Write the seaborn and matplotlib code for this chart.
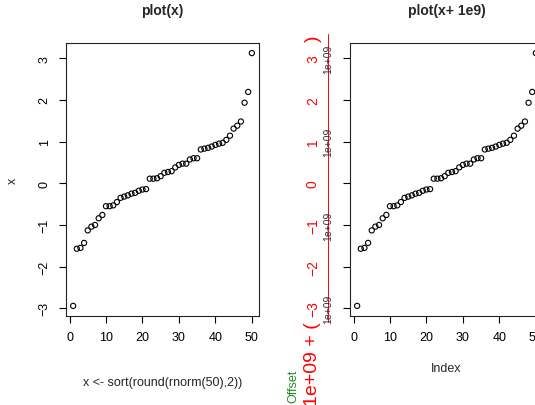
import numpy as np
import pandas as pd
import seaborn as sns
import matplotlib.pyplot as plt

# sorted, rounded values
x_vals = [-2.94, -1.57, -1.55, -1.43, -1.13, -1.04, -1.00, -0.84, -0.76, -0.55,
          -0.55, -0.53, -0.45, -0.35, -0.32, -0.29, -0.25, -0.23, -0.18, -0.15,
          -0.14, 0.11, 0.11, 0.12, 0.17, 0.25, 0.27, 0.29, 0.38, 0.44,
          0.47, 0.47, 0.57, 0.60, 0.60, 0.81, 0.83, 0.85, 0.88, 0.92,
          0.95, 0.97, 1.04, 1.14, 1.31, 1.38, 1.48, 1.93, 2.19, 3.12]
index = list(range(1, len(x_vals) + 1))
y_ticks = [-3, -2, -1, 0, 1, 2, 3]
x_ticks = [0, 10, 20, 30, 40, 50]
offset_label = "1e+09"
offset_ticks = [-3, -1, 1, 3]

df = pd.DataFrame({"Index": index, "x": x_vals})

sns.set_theme(style="ticks")
plt.rcParams["font.family"] = ["Liberation Sans", "DejaVu Sans"]
plt.rcParams["axes.edgecolor"] = "black"
plt.rcParams["axes.linewidth"] = 0.8

fig = plt.figure(figsize=(5.35, 4.06), dpi=100)
W, H = 535, 406
ax1 = fig.add_axes([66 / W, 1 - 317 / H, 193 / W, 273 / H])
ax2 = fig.add_axes([350 / W, 1 - 317 / H, 193 / W, 273 / H])

lo, hi = min(x_vals), max(x_vals)
pad_y = 0.04 * (hi - lo)
pad_x = 0.04 * (len(x_vals) - 1)

for ax in (ax1, ax2):
    sns.scatterplot(data=df, x="Index", y="x", ax=ax, marker="o", s=14,
                    facecolor="none", edgecolor="black", linewidth=0.8)
    ax.set_xlim(1 - pad_x, len(x_vals) + pad_x)
    ax.set_ylim(lo - pad_y, hi + pad_y)
    ax.set_xticks(x_ticks)
    ax.set_yticks(y_ticks)
    ax.tick_params(axis="both", direction="out", length=5, width=0.8,
                   labelsize=9, colors="black", pad=6)
    ax.tick_params(axis="y", labelrotation=90)
    for sp in ax.spines.values():
        sp.set_visible(True)
        sp.set_color("#222222")
    ax.set_xlabel("")
    ax.set_ylabel("")

for lab in ax1.get_yticklabels():
    lab.set_va("center")
ax1.set_yticklabels([str(t).replace("-", "\u2212") for t in y_ticks])
ax2.tick_params(axis="y", labelleft=False)

ax1.set_title("plot(x)", fontsize=10, fontweight="bold", pad=21)
ax2.set_title("plot(x+ 1e9)", fontsize=10, fontweight="bold", pad=21)
ax1.set_ylabel("x", fontsize=9, labelpad=14)
fig.text(163 / W, 1 - 383 / H, "x <- sort(round(rnorm(50),2))", fontsize=9,
         ha="center", va="center")
fig.text(446 / W, 1 - 369 / H, "Index", fontsize=9, ha="center", va="center")

# red offset axis drawn left of the second panel
tr = ax2.get_yaxis_transform()
ax2.plot([-0.114, -0.114], [-3.32, 3.57], color="red", lw=0.7,
         transform=tr, clip_on=False)
for t in y_ticks:
    ax2.text(-0.192, t, str(t).replace("-", "\u2212"), color="red", fontsize=10,
             rotation=90, ha="center", va="center", transform=tr)
for t in offset_ticks:
    ax2.text(-0.114, t, offset_label, color="#333333", fontsize=7.5,
             rotation=90, ha="center", va="center", transform=tr)
ax2.text(-0.192, 3.57, ")", color="red", fontsize=14, rotation=90,
         ha="center", va="top", transform=tr)
ax2.text(-0.192, -3.3, offset_label + " + (", color="red", fontsize=14,
         rotation=90, ha="center", va="top", transform=tr)
fig.text(293 / W, 1 - 386 / H, "Offset", color="#228B22", fontsize=9,
         rotation=90, ha="center", va="center")

fig.savefig("out.png", dpi=100)
